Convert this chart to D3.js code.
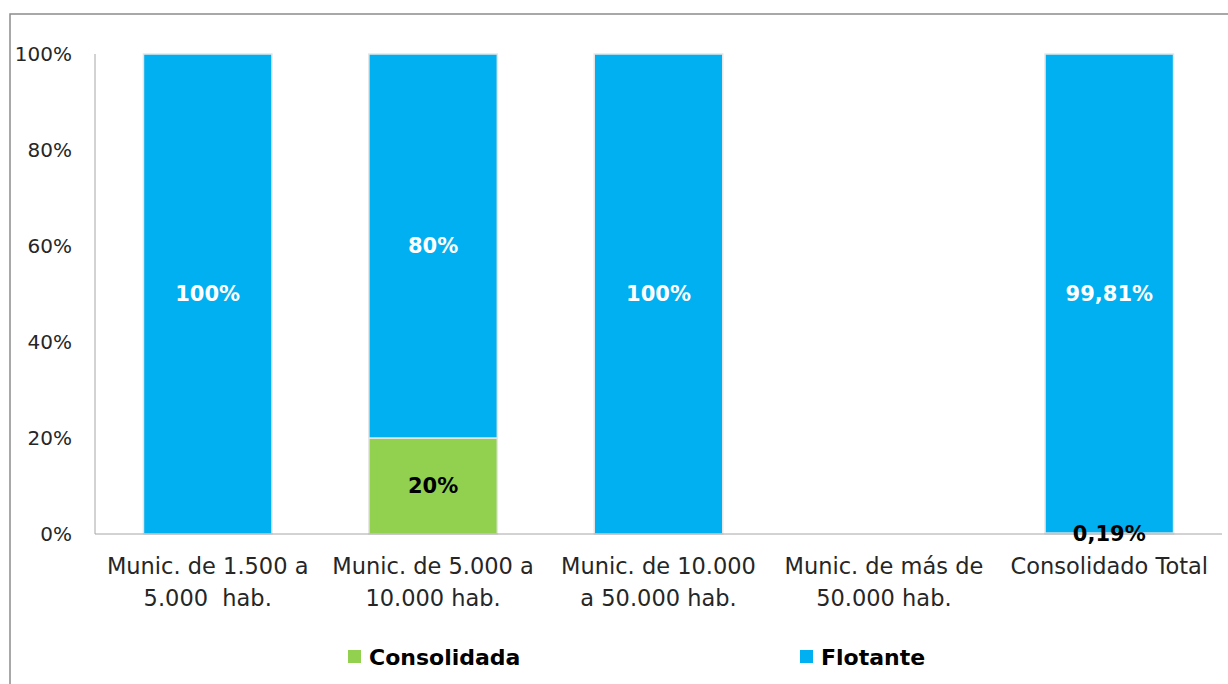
<!DOCTYPE html>
<html>
<head>
<meta charset="utf-8">
<script src="https://cdn.jsdelivr.net/npm/d3@7"></script>
<style>
  html, body { margin: 0; padding: 0; background: #ffffff; }
  svg { display: block; font-family: "DejaVu Sans", sans-serif; }
  text { white-space: pre; }
</style>
</head>
<body>
<div id="chart"></div>
<script>
// categories (each label split in its two lines)
const categories = [
  ["Munic. de 1.500 a", "5.000  hab."],
  ["Munic. de 5.000 a", "10.000 hab."],
  ["Munic. de 10.000", "a 50.000 hab."],
  ["Munic. de más de", "50.000 hab."],
  ["Consolidado Total"]
];
const consolidada = [0, 20, 0, 0, 0.19];
const flotante = [100, 80, 100, 0, 99.81];
const yTicks = [0, 20, 40, 60, 80, 100];
const seriesNames = ["Consolidada", "Flotante"];
const seriesColors = ["#92D050", "#00B0F0"];
const labelColors = ["#000000", "#ffffff"];

const width = 1228;
const height = 684;
const margin = { left: 95, right: 6, top: 54, bottom: 150 };

const svg = d3.select("#chart").append("svg")
  .attr("width", width)
  .attr("height", height);

// chart area border
svg.append("rect")
  .attr("x", 10).attr("y", 14)
  .attr("width", width + 20).attr("height", height + 20)
  .attr("fill", "none")
  .attr("stroke", "#8c8c8c")
  .attr("stroke-width", 1.5);

const x = d3.scaleBand()
  .domain(d3.range(categories.length))
  .range([margin.left, width - margin.right])
  .paddingInner(0.43)
  .paddingOuter(0.215);

const y = d3.scaleLinear()
  .domain([0, 100])
  .range([height - margin.bottom, margin.top]);

const comma = d3.formatLocale({ decimal: ",", thousands: ".", grouping: [3], currency: ["", "€"] });
const fmt = v => (Number.isInteger(v) ? comma.format("d")(v) : comma.format(".2f")(v)) + "%";

// y axis labels
svg.append("g")
  .selectAll("text")
  .data(yTicks)
  .join("text")
  .attr("x", 72)
  .attr("y", d => y(d))
  .attr("dy", "0.35em")
  .attr("text-anchor", "end")
  .attr("font-size", "20px")
  .attr("fill", "#262626")
  .text(d => d + "%");

// stacked bars
const rows = categories.map((c, i) => ({ i, Consolidada: consolidada[i], Flotante: flotante[i] }));
const stacked = d3.stack().keys(seriesNames)(rows);

const barsG = svg.append("g");
const labelsG = svg.append("g");

stacked.forEach((layer, k) => {
  const segs = layer.filter(d => d[1] - d[0] > 0);

  barsG.append("g").selectAll("rect")
    .data(segs)
    .join("rect")
    .attr("x", d => x(d.data.i))
    .attr("y", d => y(d[1]))
    .attr("width", x.bandwidth())
    .attr("height", d => y(d[0]) - y(d[1]))
    .attr("fill", seriesColors[k])
    .attr("stroke", "#e6e6e6")
    .attr("stroke-width", 1.5);

  labelsG.append("g").selectAll("text")
    .data(segs)
    .join("text")
    .attr("x", d => x(d.data.i) + x.bandwidth() / 2)
    .attr("y", d => (y(d[0]) + y(d[1])) / 2)
    .attr("dy", "0.35em")
    .attr("text-anchor", "middle")
    .attr("font-size", "21px")
    .attr("font-weight", "bold")
    .attr("fill", labelColors[k])
    .text(d => fmt(d[1] - d[0]));
});

// axis lines
svg.insert("line", "g:nth-of-type(3)")
  .attr("x1", margin.left).attr("x2", margin.left)
  .attr("y1", y(100)).attr("y2", y(0))
  .attr("stroke", "#a6a6a6").attr("stroke-width", 1);
svg.insert("line", "g:nth-of-type(3)")
  .attr("x1", margin.left).attr("x2", width - margin.right)
  .attr("y1", y(0)).attr("y2", y(0))
  .attr("stroke", "#a6a6a6").attr("stroke-width", 1);
labelsG.raise();

// category labels
const cat = svg.append("g")
  .selectAll("text")
  .data(categories)
  .join("text")
  .attr("x", (d, i) => x(i) + x.bandwidth() / 2)
  .attr("y", y(0) + 32)
  .attr("text-anchor", "middle")
  .attr("font-size", "22.5px")
  .attr("fill", "#262626");
cat.selectAll("tspan")
  .data(d => d)
  .join("tspan")
  .attr("x", function () { return this.parentNode.getAttribute("x"); })
  .attr("dy", (d, j) => j === 0 ? "0.35em" : "32px")
  .text(d => d);

// legend
const legendX = [348, 800];
const legend = svg.append("g");
seriesNames.forEach((name, k) => {
  legend.append("rect")
    .attr("x", legendX[k]).attr("y", 650)
    .attr("width", 13).attr("height", 13)
    .attr("fill", seriesColors[k]);
  legend.append("text")
    .attr("x", legendX[k] + 21).attr("y", 657)
    .attr("dy", "0.35em")
    .attr("font-size", "22px")
    .attr("font-weight", "bold")
    .attr("fill", "#000000")
    .text(name);
});
</script>
</body>
</html>
